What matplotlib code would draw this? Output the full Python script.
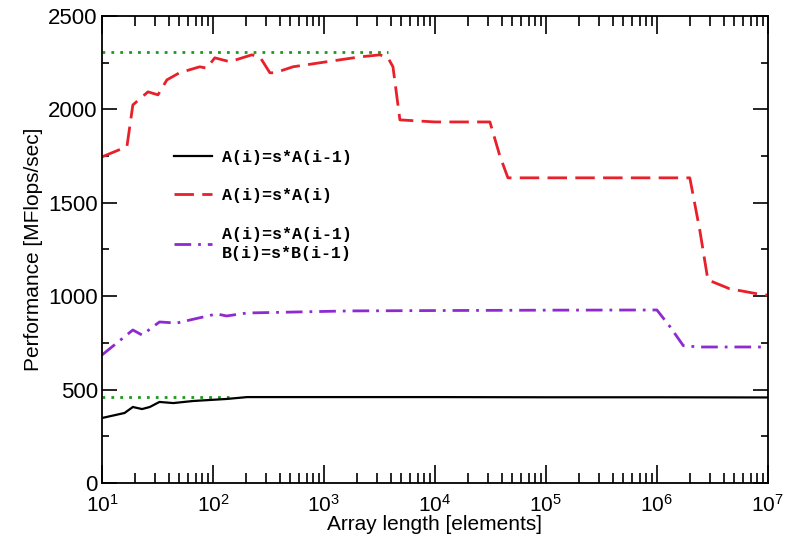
import matplotlib.pyplot as plt
from matplotlib.ticker import MultipleLocator, LogLocator, NullFormatter

plt.rcParams['font.family'] = ['Liberation Sans', 'DejaVu Sans']
plt.rcParams['mathtext.fontset'] = 'custom'
plt.rcParams['mathtext.rm'] = 'Liberation Sans'
plt.rcParams['mathtext.it'] = 'Liberation Sans'

# A(i)=s*A(i-1)
n_rec = [10, 16, 19, 23, 27, 33, 44, 66, 133, 203, 610, 3000, 1e4, 1e5, 1e6, 1e7]
p_rec = [348, 375, 407, 396, 407, 434, 428, 439, 450, 460, 460, 460, 460, 459, 459, 458]

# A(i)=s*A(i)
n_vec = [10, 16.8, 19, 26, 32, 38.5, 50, 76, 88, 104, 142, 224, 265, 326, 362, 526,
         1060, 2110, 3200, 3780, 4190, 4840, 1e4, 31300, 38500, 45500, 1e5, 1e6,
         1.98e6, 2.44e6, 2.88e6, 4.5e6, 8.1e6, 1e7]
p_vec = [1745, 1800, 2023, 2093, 2077, 2157, 2195, 2227, 2220, 2275, 2254, 2291, 2280,
         2195, 2195, 2227, 2254, 2280, 2291, 2275, 2227, 1943, 1932, 1932, 1750, 1633,
         1633, 1633, 1633, 1350, 1087, 1040, 1012, 1005]

# A(i)=s*A(i-1); B(i)=s*B(i-1)
n_two = [10, 19, 23, 33, 47, 108, 133, 203, 1680, 1e4, 1e5, 1e6, 1.3e6, 1.73e6, 2.4e6, 1e7]
p_two = [685, 819, 792, 862, 856, 905, 894, 910, 921, 923, 925, 926, 840, 735, 728, 728]

# ideal performance levels (dotted)
n_lim_hi = [10, 3800]
p_lim_hi = [2305, 2305]
n_lim_lo = [10, 140]
p_lim_lo = [460, 460]

fig = plt.figure(figsize=(7.9, 5.44), dpi=100)
ax = fig.add_axes([0.129, 0.112, 0.843, 0.859])

ax.plot(n_lim_hi, p_lim_hi, color='#1a9a1a', lw=2, ls=(0, (1, 2.2)))
ax.plot(n_lim_lo, p_lim_lo, color='#1a9a1a', lw=2, ls=(0, (1, 2.2)))
ax.plot(n_rec, p_rec, color='black', lw=1.6, label='A(i)=s*A(i-1)')
ax.plot(n_vec, p_vec, color='#e8202a', lw=2, ls=(0, (7, 3)), label='A(i)=s*A(i)')
ax.plot(n_two, p_two, color='#8f2ad0', lw=2, ls=(0, (6, 2.5, 1, 2.5)),
        label='A(i)=s*A(i-1)\nB(i)=s*B(i-1)')

ax.set_xscale('log')
ax.set_xlim(10, 1e7)
ax.set_ylim(0, 2500)
ax.yaxis.set_major_locator(MultipleLocator(500))
ax.yaxis.set_minor_locator(MultipleLocator(250))
ax.xaxis.set_minor_locator(LogLocator(base=10, subs=range(2, 10), numticks=20))
ax.xaxis.set_minor_formatter(NullFormatter())

ax.tick_params(which='both', direction='in', top=True, right=True, labelsize=16, width=1.2)
ax.tick_params(axis='x', which='major', length=13, pad=8, labelsize=15)
ax.tick_params(axis='x', which='minor', length=7)
ax.tick_params(axis='y', which='major', length=11, pad=3)
ax.tick_params(axis='y', which='minor', length=5)
for s in ax.spines.values():
    s.set_linewidth(1.3)

ax.set_xlabel('Array length [elements]', fontsize=15, labelpad=-1)
ax.set_ylabel('Performance [MFlops/sec]', fontsize=15, labelpad=4)

leg = ax.legend(loc='upper left', bbox_to_anchor=(0.085, 0.745), frameon=False,
                prop={'family': 'Liberation Mono', 'weight': 'bold', 'size': 12},
                handlelength=2.3, handletextpad=0.6, labelspacing=1.4)
for t in leg.get_texts():
    t.set_linespacing(1.35)

fig.savefig('out.png', dpi=100)
